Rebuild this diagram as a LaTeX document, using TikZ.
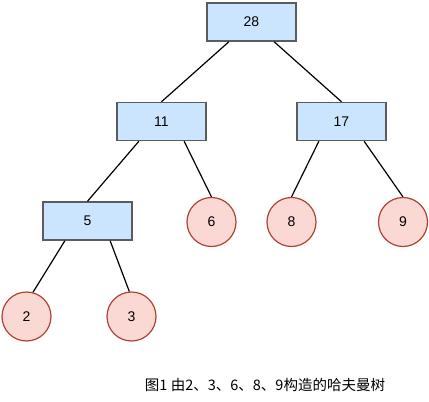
\documentclass[tikz,border=0pt]{standalone}
\usepackage{fontspec}
\setmainfont{Liberation Sans}
\newfontfamily\cjkfont{Noto Sans CJK SC}
\usetikzlibrary{calc}

\definecolor{boxfill}{HTML}{CCE5FF}
\definecolor{boxline}{HTML}{5A5C60}
\definecolor{leaffill}{HTML}{FAD9D5}
\definecolor{leafline}{HTML}{AE4132}

\begin{document}
\begin{tikzpicture}[x=1pt,y=-1pt,
    inner/.style={rectangle,draw=boxline,fill=boxfill,line width=1.5pt,
      minimum width=89pt,minimum height=38pt,font=\fontsize{14}{16}\selectfont},
    leaf/.style={circle,draw=leafline,fill=leaffill,line width=1.2pt,
      minimum size=49pt,inner sep=0pt,font=\fontsize{14}{16}\selectfont},
    edge/.style={line width=1.2pt}
  ]

  \useasboundingbox (0,0) rectangle (429,402);

  % root
  \node[inner] (n28) at (251.5,22) {28};

  % 2nd level
  \node[inner] (n11) at (161.5,121.5) {11};
  \node[inner] (n17) at (341.5,121.5) {17};

  % 3rd level
  \node[inner] (n5) at (87.5,221) {5};
  \node[leaf] (n6) at (211.5,222) {6};
  \node[leaf] (n8) at (291.5,222) {8};
  \node[leaf] (n9) at (403,222) {9};

  % 4th level
  \node[leaf] (n2) at (26.5,316.5) {2};
  \node[leaf] (n3) at (131.5,316.5) {3};

  % edges
  \draw[edge] ($(n28.south west)!0.25!(n28.south east)$) -- (n11.north);
  \draw[edge] ($(n28.south west)!0.75!(n28.south east)$) -- (n17.north);
  \draw[edge] ($(n11.south west)!0.25!(n11.south east)$) -- (n5.north);
  \draw[edge] ($(n11.south west)!0.75!(n11.south east)$) -- (n6.north);
  \draw[edge] ($(n17.south west)!0.25!(n17.south east)$) -- (n8.north);
  \draw[edge] ($(n17.south west)!0.75!(n17.south east)$) -- (n9.north);
  \draw[edge] ($(n5.south west)!0.25!(n5.south east)$) -- (n2.75);
  \draw[edge] ($(n5.south west)!0.75!(n5.south east)$) -- (n3.95);

  % caption
  \node (caption) at (265,385) {\cjkfont\fontsize{14.5}{16}\selectfont 图1 由2、3、6、8、9构造的哈夫曼树};

\end{tikzpicture}
\end{document}
